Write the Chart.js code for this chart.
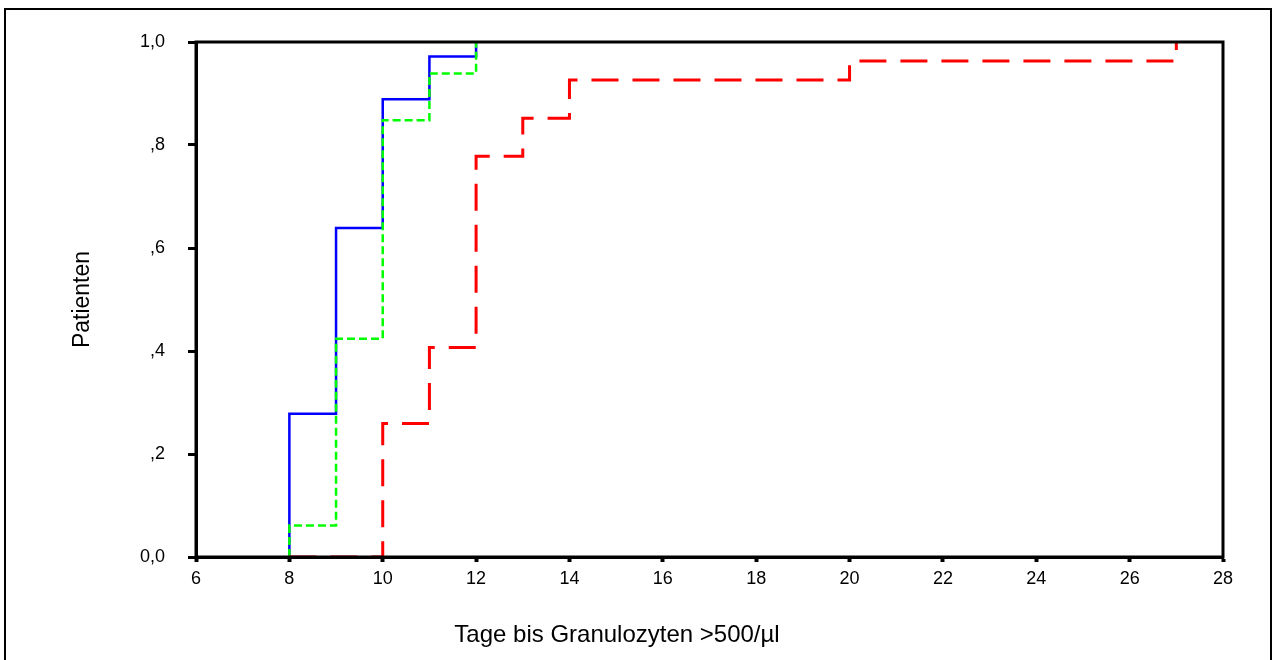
<!DOCTYPE html>
<html>
<head>
<meta charset="utf-8">
<script src="https://cdn.jsdelivr.net/npm/chart.js@4/dist/chart.umd.min.js"></script>
<style>
  body { margin: 0; background: #fff; }
  canvas { display: block; }
</style>
</head>
<body>
<canvas id="kurve" width="1273" height="660"></canvas>
<script>
// Achsen
const xTickWerte = [6, 8, 10, 12, 14, 16, 18, 20, 22, 24, 26, 28];
const yTickWerte = [0, 0.2, 0.4, 0.6, 0.8, 1.0];
const yTickLabels = ['0,0', ',2', ',4', ',6', ',8', '1,0'];

// Kumulativer Anteil der Patienten (Treppenkurven)
const blauTage = [8, 8, 9, 10, 11, 12];
const blauAnteil = [0, 0.278, 0.639, 0.889, 0.972, 1.0];

const gruenTage = [8, 8, 9, 10, 11, 12];
const gruenAnteil = [0, 0.061, 0.424, 0.848, 0.939, 1.0];

const rotTage = [8, 10, 11, 12, 13, 14, 20, 27];
const rotAnteil = [0, 0.259, 0.407, 0.778, 0.852, 0.926, 0.963, 1.0];

const schrift = 'Liberation Sans, Arial, sans-serif';

// Punkte aus den Arrays bauen
function punkte(tage, anteil) {
    return tage.map((t, i) => ({ x: t, y: anteil[i] }));
}

// Rahmen um das Bild, Rahmen um die Plotfläche, x-Achsentitel
const rahmenPlugin = {
    id: 'rahmen',
    beforeDraw(chart) {
        const ctx = chart.ctx;
        ctx.save();
        ctx.fillStyle = '#fff';
        ctx.fillRect(0, 0, chart.width, chart.height);
        ctx.strokeStyle = '#000';
        ctx.lineWidth = 2;
        ctx.strokeRect(5, 9, 1266, 670);
        ctx.restore();
    },
    afterDatasetsDraw(chart) {
        const ctx = chart.ctx;
        const a = chart.chartArea;
        ctx.save();
        ctx.strokeStyle = '#000';
        ctx.lineWidth = 3;
        ctx.strokeRect(a.left, a.top, a.right - a.left, a.bottom - a.top);
        ctx.fillStyle = '#000';
        ctx.font = '24px ' + schrift;
        ctx.textAlign = 'center';
        ctx.textBaseline = 'middle';
        ctx.fillText('Tage bis Granulozyten >500/µl', 617, 635);
        ctx.restore();
    }
};

new Chart(document.getElementById('kurve').getContext('2d'), {
    type: 'line',
    data: {
        datasets: [
            {
                data: punkte(rotTage, rotAnteil),
                borderColor: '#ff0000',
                borderWidth: 3,
                borderDash: [27, 14],
                stepped: 'before',
                pointRadius: 0,
                fill: false
            },
            {
                data: punkte(gruenTage, gruenAnteil),
                borderColor: '#00ff00',
                borderWidth: 2.5,
                borderDash: [8, 4],
                stepped: 'before',
                pointRadius: 0,
                fill: false
            },
            {
                data: punkte(blauTage, blauAnteil),
                borderColor: '#0000ff',
                borderWidth: 2.5,
                stepped: 'before',
                pointRadius: 0,
                fill: false
            }
        ]
    },
    options: {
        responsive: false,
        animation: false,
        layout: { padding: { left: 0, top: 42, right: 50, bottom: 0 } },
        plugins: {
            legend: { display: false },
            tooltip: { enabled: false }
        },
        scales: {
            x: {
                type: 'linear',
                min: 6,
                max: 28,
                afterBuildTicks: s => { s.ticks = xTickWerte.map(v => ({ value: v })); },
                afterFit: s => { s.height = 103; },
                border: { display: true, color: '#000', width: 3 },
                grid: { drawOnChartArea: false, drawTicks: true, tickLength: 5, tickWidth: 4, tickColor: '#000' },
                ticks: { color: '#000', padding: 6, maxRotation: 0, font: { family: schrift, size: 18 } }
            },
            y: {
                type: 'linear',
                min: 0,
                max: 1,
                afterBuildTicks: s => { s.ticks = yTickWerte.map(v => ({ value: v })); },
                afterFit: s => { s.width = 196; },
                border: { display: true, color: '#000', width: 3 },
                grid: { drawOnChartArea: false, drawTicks: true, tickLength: 8, tickWidth: 3, tickColor: '#000' },
                ticks: {
                    color: '#000',
                    padding: 23,
                    font: { family: schrift, size: 18 },
                    callback: (wert, index) => yTickLabels[index]
                },
                title: {
                    display: true,
                    text: 'Patienten',
                    color: '#000',
                    font: { family: schrift, size: 23 },
                    padding: { top: 69, bottom: 0 }
                }
            }
        }
    },
    plugins: [rahmenPlugin]
});
</script>
</body>
</html>
